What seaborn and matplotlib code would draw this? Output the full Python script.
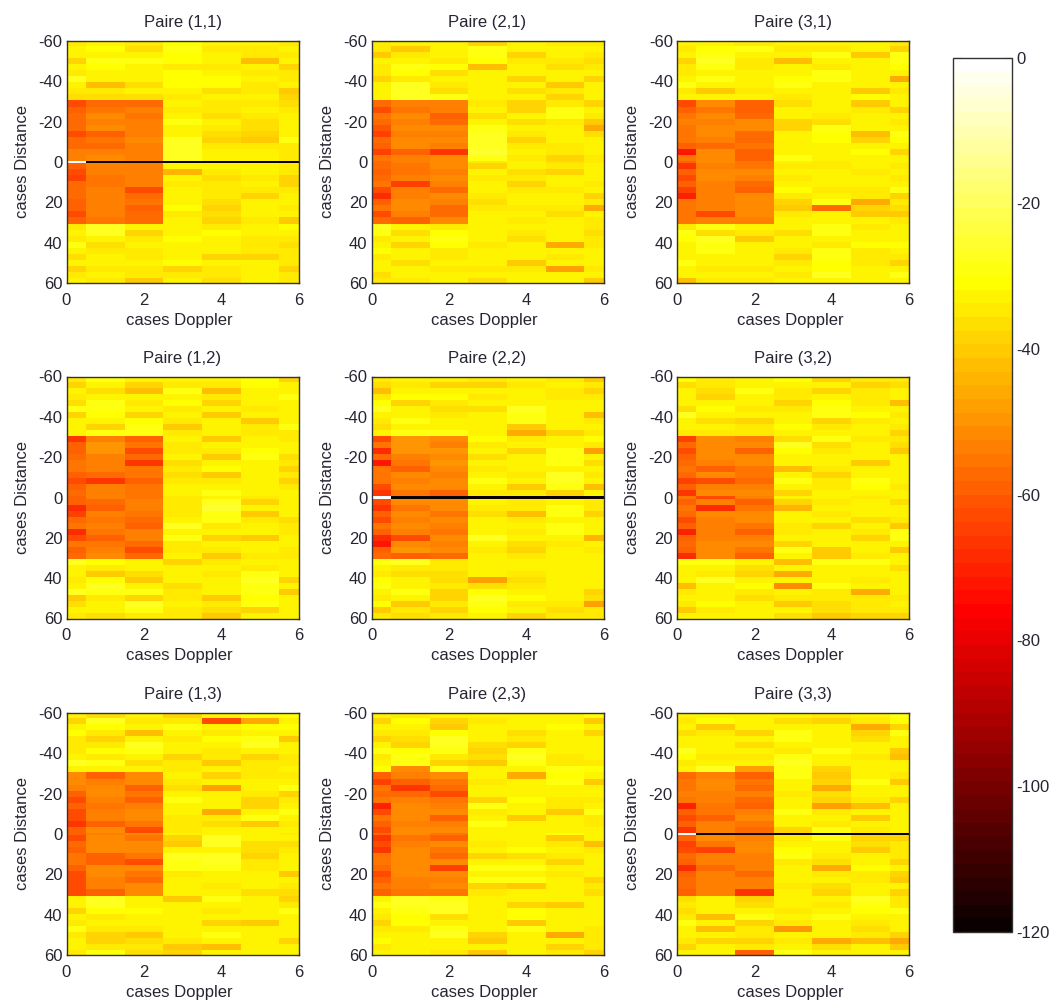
import numpy as np
import matplotlib
matplotlib.use('Agg')
import matplotlib.pyplot as plt
import seaborn as sns

# Values are dB below the peak.
# Each row of a panel stands for 3 distance cells: 20 rows above 0, then 20 below.
P11 = [[34,32,34,31,33,33,34],[33,31,36,30,34,35,33],[33,32,33,31,32,34,35],[38,29,30,31,33,42,33],
 [33,31,32,34,34,33,38],[35,33,32,31,32,35,34],[27,32,33,31,31,33,34],[32,42,36,31,31,34,33],
 [34,35,33,32,37,35,40],[36,36,36,34,33,33,38],[62,57,58,33,34,35,36],[60,55,54,34,35,33,35],
 [58,52,56,32,37,34,32],[58,53,54,30,32,36,32],[57,52,53,32,34,37,33],[62,60,53,32,37,39,33],
 [58,55,52,28,38,40,30],[57,58,54,28,35,34,35],[54,54,53,28,32,33,34],[54,52,53,28,33,33,34],
 [60,54,53,33,33,32,35],[63,54,53,44,34,32,35],[64,55,53,33,37,34,38],[58,55,53,35,35,33,39],
 [57,54,62,32,34,35,35],[58,54,58,33,35,38,32],[60,54,56,33,37,33,33],[60,53,60,31,38,33,34],
 [62,54,58,35,36,33,33],[60,55,57,33,38,34,41],[35,28,32,32,35,33,31],[33,27,39,32,31,32,33],
 [35,32,34,31,32,35,34],[30,36,32,32,32,35,37],[33,34,34,32,33,34,34],[37,32,35,33,39,38,35],
 [33,33,33,31,32,33,34],[38,34,34,38,34,32,39],[34,32,35,34,34,33,35],[33,34,41,32,36,33,35]]
C11 = [0,120,120,120,120,120,120]

P21 = [[35,32,32,38,33,34,34],[35,41,32,30,33,32,32],[40,34,33,30,38,33,34],[32,32,35,31,34,35,37],
 [34,29,31,42,33,37,34],[35,31,36,32,32,32,32],[38,35,33,32,38,33,39],[32,28,35,32,32,40,32],
 [33,28,37,33,37,34,33],[32,28,30,32,32,38,32],[58,53,53,34,38,34,39],[62,55,54,33,39,30,32],
 [55,52,60,36,33,30,34],[58,53,58,32,37,34,40],[61,52,52,29,32,32,46],[64,53,54,27,35,33,37],
 [58,52,52,28,38,33,32],[60,52,54,27,34,34,33],[64,60,66,26,32,35,32],[56,53,52,30,34,39,34],
 [58,55,52,38,33,35,32],[60,56,53,32,36,38,32],[58,54,52,34,34,32,33],[56,64,54,32,38,32,34],
 [62,53,58,32,35,34,32],[68,53,52,34,33,33,38],[60,52,53,36,32,32,35],[56,52,58,34,34,35,46],
 [62,53,58,33,33,36,33],[58,60,52,32,34,33,34],[28,33,35,32,32,32,35],[30,37,31,33,34,32,37],
 [35,32,30,32,36,33,34],[33,39,31,34,32,46,34],[31,32,35,32,32,32,32],[34,32,34,32,32,34,32],
 [32,37,32,33,41,32,33],[33,32,34,34,34,48,35],[36,33,32,32,32,33,32],[34,35,33,37,33,32,41]]
C21 = [58,53,52,35,32,37,34]

P31 = [[32,33,35,33,33,33,35],[34,31,30,34,35,33,38],[33,29,32,33,30,40,30],[38,28,35,42,33,32,29],
 [34,29,34,32,34,32,31],[34,32,32,32,29,33,33],[32,30,33,31,30,33,46],[30,33,32,29,32,33,32],
 [35,40,34,32,33,41,34],[33,32,32,35,32,31,33],[62,52,60,37,32,41,32],[60,56,60,33,33,34,38],
 [56,52,58,32,34,32,32],[54,53,52,38,36,33,35],[55,52,52,38,30,33,33],[56,52,58,32,31,42,30],
 [55,53,57,32,31,38,31],[60,57,55,33,32,33,33],[72,52,60,32,33,31,38],[56,52,60,30,32,32,33],
 [66,53,55,34,34,32,34],[60,52,52,32,32,34,32],[62,52,53,34,33,33,35],[60,54,58,32,33,32,32],
 [64,53,60,31,34,35,30],[70,53,52,34,32,34,38],[56,54,52,38,30,46,34],[55,53,52,41,58,38,37],
 [55,62,52,34,32,40,40],[56,53,53,32,32,33,34],[34,30,32,33,29,34,32],[30,37,34,36,30,32,33],
 [31,28,40,33,32,33,33],[33,30,32,32,35,31,31],[32,30,33,34,30,35,33],[33,32,32,39,30,34,35],
 [30,33,33,35,31,34,39],[32,34,35,33,31,32,32],[33,33,32,35,28,33,30],[42,34,34,33,32,33,32]]
C31 = [60,52,55,33,34,32,32]

P12 = [[35,29,33,33,32,31,38],[38,32,39,34,34,31,32],[33,37,42,30,42,32,33],[35,32,32,32,34,32,30],
 [36,29,35,31,39,33,32],[30,29,33,34,32,35,33],[38,31,39,32,40,33,33],[33,32,31,35,33,41,32],
 [32,38,30,41,33,35,30],[32,30,30,35,32,34,34],[66,54,60,33,41,32,34],[60,50,56,35,33,32,33],
 [60,50,62,34,35,31,33],[58,54,58,32,41,30,37],[56,54,66,36,32,32,34],[55,54,55,34,31,32,38],
 [60,58,55,36,41,32,34],[62,66,60,35,34,32,39],[60,53,56,32,32,32,34],[58,54,56,32,30,33,32],
 [60,58,54,34,28,39,33],[68,60,54,35,26,33,32],[64,53,56,35,30,41,32],[58,55,58,33,29,35,36],
 [56,53,60,28,34,32,34],[68,55,54,32,32,33,34],[62,60,53,30,38,40,32],[55,56,58,34,32,32,33],
 [60,54,62,35,34,33,34],[58,52,58,32,41,35,34],[27,31,32,38,35,32,33],[32,35,33,32,33,34,32],
 [33,41,37,33,34,30,33],[34,31,41,32,32,28,39],[32,28,33,37,33,30,32],[28,30,30,34,32,30,41],
 [40,34,39,35,41,31,33],[37,33,28,32,35,30,32],[33,32,30,34,37,38,32],[35,37,34,34,41,32,32]]
C12 = [60,54,56,34,32,34,33]

P22 = [[34,33,33,35,32,34,41],[37,35,38,39,34,33,34],[42,33,32,32,33,34,39],[34,31,31,34,32,34,34],
 [31,39,34,32,33,32,32],[28,32,37,37,28,32,32],[32,33,35,32,29,33,43],[35,30,32,32,30,32,34],
 [37,32,32,32,41,32,32],[32,29,29,32,46,39,34],[62,50,52,31,34,33,31],[56,50,53,34,33,32,34],
 [68,50,50,32,38,30,48],[58,53,51,36,32,30,32],[72,56,50,32,33,30,37],[56,60,52,34,33,33,32],
 [55,52,54,32,34,28,34],[56,54,51,30,33,28,32],[62,51,51,32,41,30,42],[66,55,60,34,35,39,33],
 [63,52,51,33,35,32,34],[66,55,51,34,35,30,34],[60,52,55,36,43,30,38],[62,53,52,33,34,33,32],
 [56,52,53,32,32,30,32],[60,54,55,32,34,30,32],[68,62,52,27,32,33,45],[72,51,53,33,37,34,32],
 [60,50,52,34,38,33,34],[58,60,58,32,34,32,33],[30,27,35,32,32,32,32],[32,34,34,33,33,32,32],
 [34,37,37,32,35,32,33],[31,33,37,48,37,32,32],[30,32,34,36,35,32,33],[33,29,38,31,33,32,38],
 [35,33,38,28,31,32,37],[31,40,35,29,34,34,48],[40,34,39,31,33,37,35],[35,37,34,32,38,35,34]]
C22 = [0,120,120,120,120,120,120]

P32 = [[31,34,33,31,38,34,35],[37,35,32,32,33,39,37],[32,37,29,34,38,34,32],[32,38,32,34,32,34,33],
 [32,32,32,39,31,35,43],[37,31,35,34,30,33,32],[28,32,32,32,30,31,34],[32,37,38,32,38,34,32],
 [32,33,34,31,34,32,35],[34,35,35,32,32,33,38],[64,52,53,37,30,35,34],[58,51,52,28,37,32,37],
 [62,51,60,31,35,32,41],[60,52,52,32,33,32,33],[58,53,52,32,33,41,32],[55,60,56,42,34,32,33],
 [58,52,55,32,38,33,33],[64,62,58,30,34,30,32],[60,54,54,32,34,31,34],[66,52,52,38,33,32,32],
 [60,54,60,39,34,33,37],[56,68,56,44,32,32,33],[58,52,52,33,35,33,33],[62,53,52,32,33,37,34],
 [60,53,56,34,39,33,41],[70,54,60,35,32,35,30],[60,53,53,32,33,38,30],[58,52,52,38,32,33,32],
 [60,51,56,30,41,32,41],[68,52,60,32,41,35,32],[30,30,32,42,30,30,33],[32,32,37,32,32,32,37],
 [33,34,39,46,32,32,32],[32,28,32,33,33,34,32],[42,32,31,52,30,32,32],[34,32,35,33,34,46,33],
 [32,33,37,35,35,35,34],[34,31,32,41,37,34,32],[41,34,32,33,37,34,34],[32,32,32,37,41,38,39]]
C32 = [56,62,54,32,33,34,32]

P13 = [[32,37,32,38,32,31,31],[38,28,34,35,62,46,32],[32,31,32,30,32,31,31],[31,35,42,32,34,32,32],
 [34,39,32,34,31,30,40],[34,34,27,32,32,28,32],[34,31,30,33,35,33,32],[32,34,32,39,34,39,34],
 [28,30,37,34,41,34,34],[32,32,32,35,32,35,32],[52,60,52,32,38,35,34],[52,53,52,34,32,32,32],
 [53,52,60,37,48,33,30],[60,52,55,33,32,34,39],[62,54,60,30,33,39,34],[60,56,53,32,32,39,32],
 [62,54,52,32,46,32,30],[62,53,52,35,34,30,32],[66,60,56,34,37,41,34],[60,52,62,34,32,32,32],
 [62,52,56,38,27,32,32],[58,52,52,41,28,37,37],[60,52,52,32,32,37,34],[55,60,56,28,28,39,32],
 [55,60,62,30,28,34,32],[60,52,52,30,30,35,32],[62,52,56,34,32,33,41],[62,53,58,33,32,32,32],
 [62,54,52,32,34,32,34],[62,60,52,32,33,37,37],[32,28,33,41,30,32,39],[32,28,32,33,32,32,34],
 [39,31,31,32,34,32,30],[32,34,33,33,32,32,32],[34,32,33,32,39,41,32],[30,35,35,33,32,33,32],
 [34,38,40,32,30,33,32],[32,39,37,34,32,32,39],[32,34,34,40,43,32,32],[35,30,37,38,32,32,32]]
C13 = [60,53,52,33,32,32,34]

P23 = [[32,34,32,33,32,32,31],[38,31,38,34,32,32,40],[32,32,41,32,32,31,32],[34,35,31,32,37,32,38],
 [38,37,27,32,34,33,32],[33,39,28,37,38,33,32],[30,31,30,39,30,32,32],[34,30,35,37,28,34,32],
 [32,29,39,41,29,34,34],[31,52,30,32,32,30,31],[60,54,52,32,46,31,33],[64,60,55,34,32,30,40],
 [56,66,58,32,32,32,32],[58,58,62,32,33,33,32],[55,53,56,39,31,34,34],[70,52,53,30,32,35,32],
 [62,52,52,35,32,40,29],[56,52,60,32,40,32,35],[60,53,53,30,32,33,35],[62,52,52,32,32,33,32],
 [66,55,60,33,33,41,32],[62,54,52,34,33,34,43],[66,52,56,32,31,32,34],[55,51,58,38,37,34,32],
 [56,51,52,32,32,39,32],[58,51,65,30,29,33,32],[62,52,52,32,32,34,32],[60,53,53,30,30,32,38],
 [55,54,52,38,41,32,34],[60,56,56,35,32,32,37],[32,28,30,32,33,33,32],[30,27,28,32,39,40,32],
 [32,30,28,33,31,32,32],[34,31,37,32,31,33,33],[38,31,33,32,41,32,32],[34,34,30,32,30,32,34],
 [32,32,28,39,32,46,35],[31,32,32,41,33,32,34],[35,33,32,32,33,39,34],[32,32,34,41,32,34,38]]
C23 = [58,52,56,32,32,31,32]

P33 = [[32,32,32,32,35,33,30],[35,31,32,37,38,34,31],[33,41,32,32,33,46,39],[37,35,38,30,32,39,30],
 [33,32,32,30,32,37,32],[32,32,37,32,32,33,32],[28,32,33,34,30,32,41],[31,35,35,30,32,34,43],
 [34,33,32,27,33,33,32],[32,27,48,29,38,33,33],[58,54,60,30,41,32,34],[55,52,55,33,38,29,41],
 [56,52,58,32,46,32,32],[54,54,54,34,37,33,33],[55,53,58,33,39,34,39],[70,56,60,32,48,43,32],
 [60,56,53,30,35,32,32],[62,60,52,32,32,41,32],[60,53,56,32,34,33,32],[66,54,58,39,30,35,32],
 [60,52,53,34,30,38,38],[64,56,52,32,32,37,34],[62,64,52,31,32,41,34],[58,54,53,30,34,32,35],
 [60,53,54,34,37,32,38],[68,58,53,32,46,31,32],[60,54,58,32,34,35,39],[58,53,53,33,32,35,41],
 [58,53,54,34,37,32,32],[60,54,66,33,38,33,38],[37,32,39,32,32,28,34],[35,32,37,32,34,29,35],
 [37,32,32,34,32,31,30],[34,43,30,32,30,32,32],[30,32,39,34,32,35,32],[32,43,35,50,32,37,33],
 [33,32,35,32,32,34,38],[35,38,39,34,46,43,46],[39,32,34,32,37,32,41],[32,33,60,30,32,32,33]]
C33 = [0,120,120,120,120,120,120]

panels = [[P11, P21, P31], [P12, P22, P32], [P13, P23, P33]]
centers = [[C11, C21, C31], [C12, C22, C32], [C13, C23, C33]]
titles = [['Paire (1,1)', 'Paire (2,1)', 'Paire (3,1)'],
          ['Paire (1,2)', 'Paire (2,2)', 'Paire (3,2)'],
          ['Paire (1,3)', 'Paire (2,3)', 'Paire (3,3)']]
distance_ticks = [-60, -40, -20, 0, 20, 40, 60]
doppler_ticks = [0, 2, 4, 6]
cbar_ticks = [0, -20, -40, -60, -80, -100, -120]

sns.set_theme(style='white')
plt.rcParams['font.family'] = ['Liberation Sans', 'DejaVu Sans']
plt.rcParams['text.color'] = '#262633'
plt.rcParams['axes.labelcolor'] = '#262633'
plt.rcParams['xtick.color'] = '#262633'
plt.rcParams['ytick.color'] = '#262633'

W, H = 1050, 1001
fig = plt.figure(figsize=(W / 100, H / 100), dpi=100)
hot = plt.get_cmap('hot', 64)
lefts = [66.5, 371.5, 677]
tops = [41, 376.5, 713]
cax = fig.add_axes([953 / W, 1 - 932 / H, 59 / W, 874.5 / H])

cb = None
for r in range(3):
    for c in range(3):
        rows = np.array(panels[r][c])
        # top half, the 0 row, bottom half, each band back to 3 cells
        grid = np.vstack([np.repeat(rows[:20], 3, axis=0), [centers[r][c]], np.repeat(rows[20:], 3, axis=0)])
        # outer Doppler cells are half as wide as the others
        grid = np.repeat(-grid, [1, 2, 2, 2, 2, 2, 1], axis=1)

        ax = fig.add_axes([lefts[c] / W, 1 - (tops[r] + 242) / H, 232 / W, 242 / H])
        first = r == 0 and c == 0
        sns.heatmap(grid, ax=ax, cmap=hot, vmin=-120, vmax=0, cbar=first,
                    cbar_ax=cax if first else None,
                    cbar_kws={'ticks': cbar_ticks} if first else None,
                    xticklabels=False, yticklabels=False)
        if first:
            cb = ax.collections[0].colorbar
        ax.set_xlim(0, 12)
        ax.set_ylim(120.5, 0.5)
        ax.set_xticks([t * 2 for t in doppler_ticks])
        ax.set_xticklabels([str(t) for t in doppler_ticks], rotation=0)
        ax.set_yticks([t + 60.5 for t in distance_ticks])
        ax.set_yticklabels([str(t) for t in distance_ticks], rotation=0)
        ax.tick_params(axis='both', direction='in', length=2.5, width=0.8, labelsize=12, pad=3,
                       top=True, right=True, bottom=True, left=True)
        ax.tick_params(axis='x', pad=7)
        for spine in ax.spines.values():
            spine.set_visible(True)
            spine.set_color('#333333')
            spine.set_linewidth(1)
        ax.set_title(titles[r][c], fontsize=12, pad=10)
        ax.set_xlabel('cases Doppler', fontsize=12, labelpad=3.5)
        ax.xaxis.label.set_x(0.487)
        ax.set_ylabel('cases Distance', fontsize=12, labelpad=6)

cb.outline.set_linewidth(1)
cb.outline.set_edgecolor('#333333')
cb.set_ticklabels([str(t) for t in cbar_ticks])
cax.tick_params(axis='y', direction='in', length=6, width=0.8, labelsize=12, pad=3,
                left=True, right=True, labelleft=False, labelright=True)

fig.savefig('out.png', dpi=100)
